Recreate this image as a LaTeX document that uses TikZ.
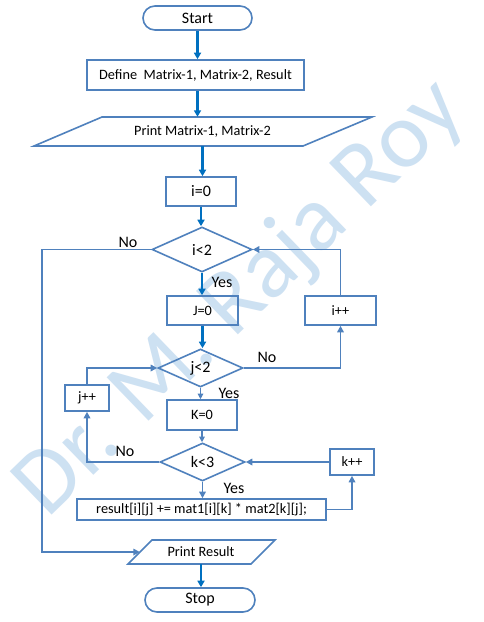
\documentclass[tikz,border=0pt]{standalone}
\usepackage{fontspec}
\setmainfont{Carlito}
\usetikzlibrary{arrows.meta,shapes.geometric,calc}
\definecolor{sb}{HTML}{4F81BD}
\definecolor{db}{HTML}{0070C0}
\definecolor{wm}{HTML}{BDD7EE}
\begin{document}
\begin{tikzpicture}[x=1pt,y=-1pt,
  box/.style={draw=sb,line width=1.6pt,rectangle,inner sep=0pt,font=\fontsize{14.3}{16}\selectfont},
  term/.style={draw=sb,line width=1.6pt,rectangle,rounded corners=12pt,inner sep=0pt,font=\fontsize{16}{18}\selectfont},
  dec/.style={draw=sb,line width=1.6pt,diamond,inner sep=0pt,font=\fontsize{16}{18}\selectfont},
  iotext/.style={inner sep=0pt,font=\fontsize{14.3}{16}\selectfont},
  ioshape/.style={draw=sb,line width=1.6pt,line join=miter},
  lab/.style={inner sep=0pt,font=\fontsize{16}{18}\selectfont},
  mainarr/.style={draw=db,line width=2.2pt,-{Triangle[length=6.5pt,width=7pt]}},
  looparr/.style={draw=sb,line width=1.6pt,-{Triangle[length=6.5pt,width=6.5pt]}},
  thinarr/.style={draw=sb,line width=1.1pt,-{Triangle[length=5.5pt,width=5.5pt]}},
]
\fill[white] (0,0) rectangle (484,622);
\useasboundingbox (0,0) rectangle (484,622);

% watermark
\node[text=wm,opacity=0.75,rotate=44,font=\fontsize{94}{94}\selectfont,inner sep=0pt] (wmark) at (241,299) {Dr. M. Raja Roy};

% nodes
\node[term,minimum width=109pt,minimum height=24pt] (start) at (197.5,18) {Start};
\node[box,minimum width=217pt,minimum height=30pt] (def) at (195.5,75) {Define\ \ Matrix-1, Matrix-2, Result};
\node[iotext,minimum width=269pt,minimum height=29pt] (pm) at (202.5,131.5) {Print Matrix-1, Matrix-2};
\draw[ioshape] (102,117) -- (372,117) -- (303,146) -- (34,146) -- cycle;
\node[box,minimum width=70pt,minimum height=29pt,font=\fontsize{16}{18}\selectfont] (i0) at (201,191.5) {i=0};
\node[dec,minimum width=100pt,minimum height=45pt] (i2) at (202,249.5) {i<2};
\node[box,minimum width=71pt,minimum height=29pt] (j0) at (202.5,310.5) {J=0};
\node[box,minimum width=71pt,minimum height=29pt] (ipp) at (340.5,310.5) {i++};
\node[dec,minimum width=85pt,minimum height=38pt] (j2) at (200.5,368) {j<2};
\node[box,minimum width=44pt,minimum height=26pt] (jpp) at (87,398) {j++};
\node[box,minimum width=70pt,minimum height=30pt] (k0) at (202,415) {K=0};
\node[dec,minimum width=85pt,minimum height=38pt] (k3) at (202.5,462) {k<3};
\node[box,minimum width=44pt,minimum height=26pt] (kpp) at (352,462) {k++};
\node[box,minimum width=249pt,minimum height=21pt] (res) at (201.5,509.5) {result[i][j] += mat1[i][k] * mat2[k][j];};
\node[iotext,minimum width=122pt,minimum height=24pt] (pr) at (201,552) {Print Result};
\draw[ioshape] (152,540) -- (275,540) -- (251,564) -- (128,564) -- cycle;
\node[term,minimum width=110pt,minimum height=24pt] (stop) at (200,600) {Stop};

% labels
\node[lab] (lno1) at (128,242) {No};
\node[lab] (lyes1) at (222,282) {Yes};
\node[lab] (lno2) at (267,357) {No};
\node[lab] (lyes2) at (229,393) {Yes};
\node[lab] (lno3) at (125,451) {No};
\node[lab] (lyes3) at (234,488) {Yes};

% coordinates
\coordinate (lx) at (42,552);

% main flow
\draw[mainarr] (start.south) -- (start.south |- def.north);
\draw[mainarr] (def.south) ++(2,0) coordinate (d1) -- (d1 |- pm.north);
\draw[mainarr] (pm.south) -- (pm.south |- i0.north);
\draw[mainarr] (i0.south) -- (i0.south |- i2.north);
\draw[mainarr] (i2.south) -- (i2.south |- j0.north);
\draw[mainarr] (j0.south) -- (j0.south |- j2.north);
\draw[thinarr] (j2.south) -- (j2.south |- k0.north);
\draw[thinarr] (k0.south) -- (k0.south |- k3.north);
\draw[looparr] (k3.south) -- (k3.south |- res.north);
\draw[mainarr] (pr.south) -- (pr.south |- stop.north);

% loops
\draw[looparr] (i2.west) -| (lx) -- (pr.west);
\draw[looparr] (j2.east) -| (ipp.south);
\draw[looparr] (ipp.north) |- (i2.east);
\draw[looparr] (k3.west) -| (jpp.south);
\draw[looparr] (jpp.north) |- (j2.west);
\draw[looparr] (res.east) -| (kpp.south);
\draw[looparr] (kpp.west) -- (k3.east);
\end{tikzpicture}
\end{document}
